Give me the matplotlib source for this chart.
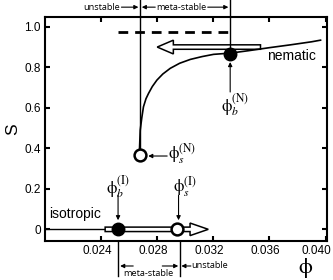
import matplotlib
matplotlib.use('Agg')
import matplotlib.pyplot as plt
from matplotlib.transforms import ScaledTranslation

plt.rcParams['font.family'] = ['Liberation Sans', 'DejaVu Sans']
plt.rcParams['mathtext.fontset'] = 'stix'

# nematic branch S(phi)
phi_curve = [0.02674, 0.02679, 0.02690, 0.02702, 0.02720, 0.02738, 0.02765, 0.02798,
             0.02840, 0.02893, 0.02960, 0.03036, 0.03120, 0.03202, 0.03320, 0.03450,
             0.03600, 0.03750, 0.03900, 0.03964]
s_curve = [0.40, 0.49, 0.55, 0.605, 0.645, 0.671, 0.705, 0.737,
           0.767, 0.795, 0.820, 0.839, 0.853, 0.864, 0.870, 0.882,
           0.897, 0.911, 0.926, 0.934]

# special points
phi_s_N, s_s_N = 0.02674, 0.366
phi_b_N, s_b_N = 0.03320, 0.866
phi_b_I, s_b_I = 0.02521, 0.0
phi_s_I, s_s_I = 0.02942, 0.0
phi_s_I_line = 0.02962

# dashed line at S ~ 0.975
dash_phi = [0.0252, 0.0331]
dash_s = [0.975, 0.975]

# hollow arrows (start, end, S)
nem_arrow = (0.03536, 0.0280, 0.900)
iso_arrow = (0.02429, 0.03164, 0.0)

xticks = [0.024, 0.028, 0.032, 0.036, 0.040]
xtick_labels = ['0.024', '0.028', '0.032', '0.036', '0.040']
yticks = [0, 0.2, 0.4, 0.6, 0.8, 1.0]
ytick_labels = ['0', '0.2', '0.4', '0.6', '0.8', '1.0']

PHI = r'\mathrm{\phi}'

fig = plt.figure(figsize=(3.33, 2.8), dpi=100)
ax = fig.add_axes([0.135, 0.139, 0.847, 0.8])
ax.set_xlim(0.0200, 0.0401)
ax.set_ylim(-0.058, 1.048)

for sp in ax.spines.values():
    sp.set_linewidth(1.5)
ax.set_xticks(xticks)
ax.set_xticklabels(xtick_labels)
ax.set_yticks(yticks)
ax.set_yticklabels(ytick_labels)
ax.tick_params(direction='in', top=True, right=True, length=3.5, width=1.5,
               labelsize=8.5, pad=3)
# labels in the reference sit a little left of their ticks
for i, lab in enumerate(ax.get_xticklabels()):
    dx = -9 if i == len(xticks) - 1 else -4
    lab.set_transform(lab.get_transform() + ScaledTranslation(dx / 100, 0, fig.dpi_scale_trans))
ax.set_ylabel('S', fontsize=12.5, labelpad=3)
ax.text(0.03857, -0.19, '$' + PHI + '$', fontsize=16, ha='center', va='center',
        clip_on=False)

ax.plot(phi_curve, s_curve, color='black', lw=1.2, zorder=3)
ax.plot(dash_phi, dash_s, color='black', lw=2, dashes=(3.5, 2.5))

# hollow arrows
x0, x1, y = nem_arrow
ax.arrow(x0, y, x1 - x0, 0, width=0.022, head_width=0.068, head_length=0.00115,
         length_includes_head=True, fc='white', ec='black', lw=1.1, zorder=2)
ax.plot([0.0200, iso_arrow[0]], [0, 0], color='black', lw=1.0, zorder=2)
x0, x1, y = iso_arrow
ax.arrow(x0, y, x1 - x0, 0, width=0.022, head_width=0.062, head_length=0.0013,
         length_includes_head=True, fc='white', ec='black', lw=1.1, zorder=2)

# vertical guide lines
ax.plot([phi_s_N, phi_s_N], [s_s_N, 1.132], color='black', lw=1.0, clip_on=False)
ax.plot([phi_b_N, phi_b_N], [s_b_N, 1.132], color='black', lw=1.0, clip_on=False)
ax.plot([phi_b_I, phi_b_I], [-0.058, -0.228], color='black', lw=1.0, clip_on=False)
ax.plot([phi_s_I_line, phi_s_I_line], [-0.058, -0.228], color='black', lw=1.0,
        clip_on=False)

# points
ax.plot(phi_b_N, s_b_N, 'o', ms=9, color='black', zorder=5)
ax.plot(phi_s_N, s_s_N, 'o', ms=8.5, mfc='white', mec='black', mew=1.8, zorder=5)
ax.plot(phi_b_I, s_b_I, 'o', ms=9, color='black', zorder=5)
ax.plot(phi_s_I, s_s_I, 'o', ms=8.5, mfc='white', mec='black', mew=1.8, zorder=5)

ap = dict(arrowstyle='-|>', color='black', lw=0.8, mutation_scale=6, shrinkA=0, shrinkB=0)

# point labels
ax.annotate('', xy=(phi_b_N, 0.826), xytext=(phi_b_N, 0.678), arrowprops=ap)
ax.text(0.03355, 0.615, '$' + PHI + r'_b^{(\mathrm{N})}$', fontsize=12, ha='center', va='center')
ax.annotate('', xy=(0.02736, 0.362), xytext=(0.02871, 0.362), arrowprops=ap)
ax.text(0.02975, 0.372, '$' + PHI + r'_s^{(\mathrm{N})}$', fontsize=12, ha='center', va='center')
ax.annotate('', xy=(phi_b_I, 0.045), xytext=(phi_b_I, 0.168), arrowprops=ap)
ax.text(0.02518, 0.21, '$' + PHI + r'_b^{(\mathrm{I})}$', fontsize=12, ha='center', va='center')
ax.annotate('', xy=(0.02952, 0.045), xytext=(0.02952, 0.168), arrowprops=ap)
ax.text(0.03000, 0.21, '$' + PHI + r'_s^{(\mathrm{I})}$', fontsize=12, ha='center', va='center')

ax.text(0.0376, 0.858, 'nematic', fontsize=10, ha='center', va='center')
ax.text(0.0203, 0.077, 'isotropic', fontsize=10, ha='left', va='center')

# stability annotations, top
small = dict(fontsize=6.6, family=['Open Sans', 'DejaVu Sans'], va='center')
ytop = 1.097
ax.text(0.02533, ytop, 'unstable', ha='right', clip_on=False, **small)
ax.annotate('', xy=(0.02666, ytop), xytext=(0.02545, ytop), arrowprops=ap,
            annotation_clip=False)
ax.annotate('', xy=(0.02690, ytop), xytext=(0.02786, ytop), arrowprops=ap,
            annotation_clip=False)
ax.text(0.02970, ytop, 'meta-stable', ha='center', clip_on=False, **small)
ax.annotate('', xy=(0.03307, ytop), xytext=(0.03160, ytop), arrowprops=ap,
            annotation_clip=False)

# stability annotations, bottom
ybot = -0.181
ax.annotate('', xy=(0.02536, ybot), xytext=(0.02629, ybot), arrowprops=ap,
            annotation_clip=False)
ax.annotate('', xy=(0.02950, ybot), xytext=(0.02836, ybot), arrowprops=ap,
            annotation_clip=False)
ax.annotate('', xy=(0.02972, ybot), xytext=(0.03040, ybot), arrowprops=ap,
            annotation_clip=False)
ax.text(0.03045, ybot, 'unstable', ha='left', clip_on=False, **small)
ax.text(0.02740, -0.218, 'meta-stable', ha='center', clip_on=False, **small)

fig.savefig('out.png', dpi=100)
